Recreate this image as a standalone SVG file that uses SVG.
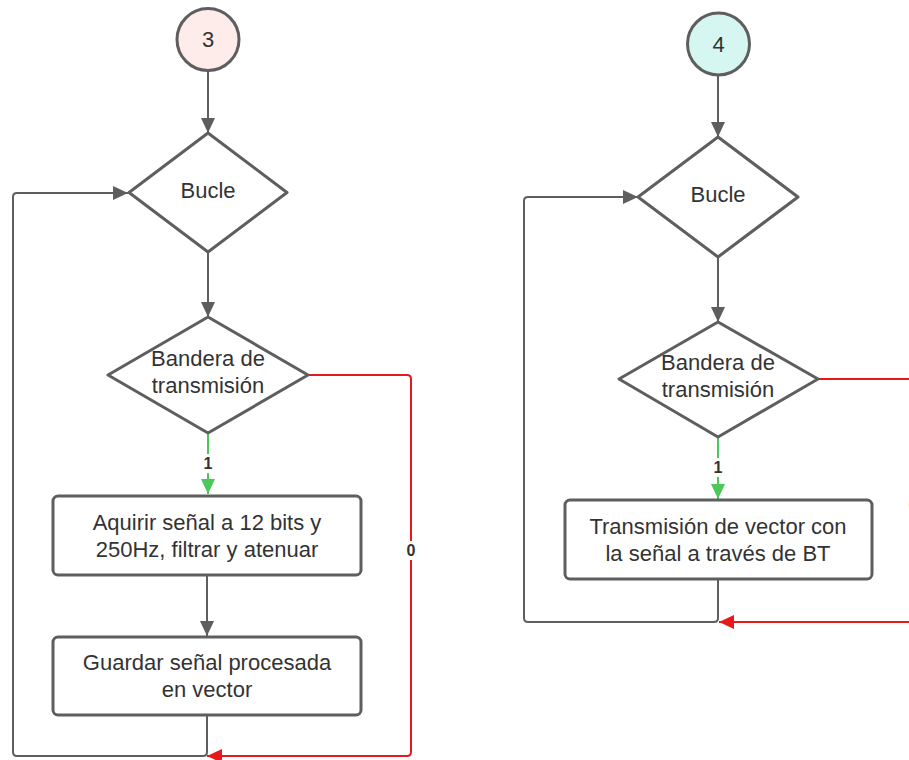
<svg xmlns="http://www.w3.org/2000/svg" width="909" height="760" viewBox="0 0 909 760">
  <style>
    .shape { stroke: #5e5e5e; stroke-width: 3; fill: #ffffff; stroke-linejoin: round; }
    .txt { font-family: "Liberation Sans", Arial, sans-serif; font-size: 22px; fill: #333333; text-anchor: middle; }
    .lbl { font-family: "Liberation Sans", Arial, sans-serif; font-size: 16px; font-weight: bold; fill: #333333; text-anchor: middle; }
    .ln { fill: none; stroke-width: 2; stroke-linejoin: round; }
    .gray { stroke: #5e5e5e; }
    .red { stroke: #e8191c; }
    .green { stroke: #4cc85a; }
  </style>
  <defs>
    <marker id="ah-gray" markerUnits="userSpaceOnUse" markerWidth="16" markerHeight="14" refX="15" refY="7" orient="auto">
      <path d="M0,0 L15,7 L0,14 Z" fill="#5e5e5e"/>
    </marker>
    <marker id="ah-red" markerUnits="userSpaceOnUse" markerWidth="16" markerHeight="14" refX="15" refY="7" orient="auto">
      <path d="M0,0 L15,7 L0,14 Z" fill="#e8191c"/>
    </marker>
    <marker id="ah-green" markerUnits="userSpaceOnUse" markerWidth="16" markerHeight="14" refX="15" refY="7" orient="auto">
      <path d="M0,0 L15,7 L0,14 Z" fill="#4cc85a"/>
    </marker>
  </defs>

  <rect width="909" height="760" fill="#ffffff"/>

  <!-- connectors -->
  <g id="connectors">
    <!-- left flow -->
    <path class="ln gray" d="M208,71 V133" marker-end="url(#ah-gray)"/>
    <path class="ln gray" d="M208,252 V317" marker-end="url(#ah-gray)"/>
    <path class="ln green" d="M208,433 V494" marker-end="url(#ah-green)"/>
    <path class="ln gray" d="M207,575 V636" marker-end="url(#ah-gray)"/>
    <path class="ln gray" d="M207,715 V752 Q207,756 203,756 H17 Q13,756 13,752 V197 Q13,193 17,193 H128" marker-end="url(#ah-gray)"/>
    <path class="ln red" d="M308,375 H407 Q411,375 411,379 V752 Q411,756 407,756 H207" marker-end="url(#ah-red)"/>
    <rect x="200" y="454" width="16" height="19" fill="#ffffff"/>
    <text class="lbl" x="208" y="469">1</text>
    <rect x="403" y="541" width="16" height="19" fill="#ffffff"/>
    <text class="lbl" x="411" y="556">0</text>

    <!-- right flow -->
    <path class="ln gray" d="M718,75 V137" marker-end="url(#ah-gray)"/>
    <path class="ln gray" d="M718,257 V322" marker-end="url(#ah-gray)"/>
    <path class="ln green" d="M718,437 V499" marker-end="url(#ah-green)"/>
    <path class="ln gray" d="M718,579 V618 Q718,622 714,622 H528 Q524,622 524,618 V201 Q524,197 528,197 H638" marker-end="url(#ah-gray)"/>
    <path class="ln red" d="M818,379 H916 Q920,379 920,383 V618 Q920,622 916,622 H719" marker-end="url(#ah-red)"/>
    <rect x="710" y="458" width="16" height="19" fill="#ffffff"/>
    <text class="lbl" x="718" y="473">1</text>
    <rect x="905" y="496" width="16" height="19" fill="#ffffff"/>
    <text class="lbl" x="913" y="511">0</text>
  </g>

  <!-- left column nodes -->
  <g id="start-3">
    <circle class="shape" cx="208" cy="39.5" r="31" style="fill:#fdecea"/>
    <text class="txt" x="208" y="47">3</text>
  </g>
  <g id="loop-3">
    <path class="shape" d="M208,133 L287,192.5 L208,252 L129,192.5 Z"/>
    <text class="txt" x="208" y="198">Bucle</text>
  </g>
  <g id="flag-3">
    <path class="shape" d="M208,317 L308,375 L208,433 L108,375 Z"/>
    <text class="txt" x="208" y="366">Bandera de</text>
    <text class="txt" x="208" y="393">transmisión</text>
  </g>
  <g id="acquire">
    <rect class="shape" x="53" y="496" width="308" height="79" rx="5"/>
    <text class="txt" x="207" y="530">Aquirir señal a 12 bits y</text>
    <text class="txt" x="207" y="557">250Hz, filtrar y atenuar</text>
  </g>
  <g id="store">
    <rect class="shape" x="53" y="637" width="308" height="78" rx="5"/>
    <text class="txt" x="207" y="670">Guardar señal procesada</text>
    <text class="txt" x="207" y="697">en vector</text>
  </g>

  <!-- right column nodes -->
  <g id="start-4">
    <circle class="shape" cx="718.5" cy="44" r="31" style="fill:#d6f7f1"/>
    <text class="txt" x="718.5" y="52">4</text>
  </g>
  <g id="loop-4">
    <path class="shape" d="M718,137 L798,197 L718,257 L638,197 Z"/>
    <text class="txt" x="718" y="202">Bucle</text>
  </g>
  <g id="flag-4">
    <path class="shape" d="M718,322 L818,379 L718,437 L619,379 Z"/>
    <text class="txt" x="718" y="370">Bandera de</text>
    <text class="txt" x="718" y="397">transmisión</text>
  </g>
  <g id="transmit">
    <rect class="shape" x="565" y="500" width="307" height="79" rx="5"/>
    <text class="txt" x="718" y="534">Transmisión de vector con</text>
    <text class="txt" x="718" y="561">la señal a través de BT</text>
  </g>
</svg>
